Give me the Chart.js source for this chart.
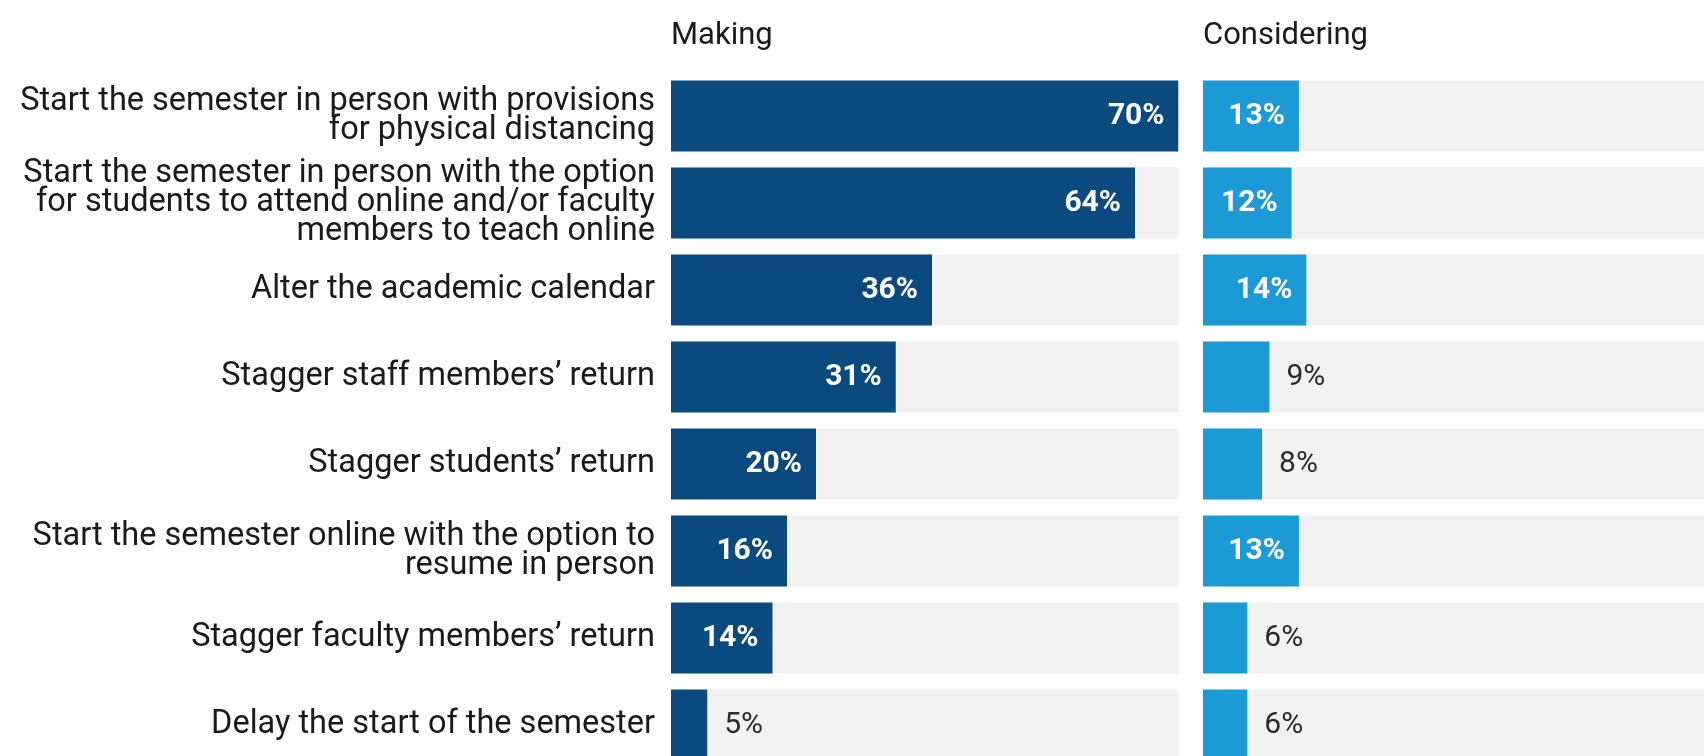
<!DOCTYPE html>
<html>
<head>
<meta charset="utf-8">
<title>Plans for the fall semester</title>
<script src="https://cdn.jsdelivr.net/npm/chart.js@4.4.1/dist/chart.umd.min.js"></script>
<style>
  html, body { margin: 0; padding: 0; background: #fff; overflow: hidden; }
  #wrap { position: relative; width: 1704px; height: 756px; overflow: hidden; }
  #making { position: absolute; left: 0; top: 0; }
  #considering { position: absolute; left: 1190px; top: 0; }
</style>
</head>
<body>
<div id="wrap">
  <canvas id="making" width="1190" height="780"></canvas>
  <canvas id="considering" width="540" height="780"></canvas>
</div>
<script>
const categories = [
  ["Start the semester in person with provisions", "for physical distancing"],
  ["Start the semester in person with the option", "for students to attend online and/or faculty", "members to teach online"],
  "Alter the academic calendar",
  "Stagger staff members’ return",
  "Stagger students’ return",
  ["Start the semester online with the option to", "resume in person"],
  "Stagger faculty members’ return",
  "Delay the start of the semester"
];
const makingValues = [70, 64, 36, 31, 20, 16, 14, 5];
const consideringValues = [13, 12, 14, 9, 8, 13, 6, 6];
const panelTitles = ["Making", "Considering"];

Chart.defaults.font.family = "Roboto";
Chart.defaults.color = "#1a1a1a";

// grey track behind every bar, full width of the panel
const trackPlugin = {
    id: "track",
    beforeDatasetsDraw(chart) {
        const { ctx, chartArea } = chart;
        const meta = chart.getDatasetMeta(0);
        ctx.save();
        ctx.fillStyle = "#f1f1f1";
        meta.data.forEach(bar => {
            ctx.fillRect(chartArea.left, bar.y - bar.height / 2, chartArea.right - chartArea.left, bar.height);
        });
        ctx.restore();
    }
};

// value labels: inside (white, bold) for long bars, outside for short ones
const valuePlugin = {
    id: "values",
    afterDatasetsDraw(chart) {
        const { ctx } = chart;
        const meta = chart.getDatasetMeta(0);
        const data = chart.data.datasets[0].data;
        ctx.save();
        ctx.textBaseline = "middle";
        meta.data.forEach((bar, i) => {
            const v = data[i];
            if (v >= 10) {
                ctx.font = "bold 30px Roboto";
                ctx.fillStyle = "#ffffff";
                ctx.textAlign = "right";
                ctx.fillText(v + "%", bar.x - 14, bar.y);
            } else {
                ctx.font = "30px Roboto";
                ctx.fillStyle = "#2a2a2a";
                ctx.textAlign = "left";
                ctx.fillText(v + "%", bar.x + 17, bar.y);
            }
        });
        ctx.restore();
    }
};

function makePanel(id, title, values, color, withLabels, padding) {
    const ctx = document.getElementById(id).getContext("2d");
    return new Chart(ctx, {
        type: "bar",
        data: {
            labels: categories,
            datasets: [{
                data: values,
                backgroundColor: color,
                barPercentage: 0.816,
                categoryPercentage: 1
            }]
        },
        options: {
            indexAxis: "y",
            responsive: false,
            animation: false,
            layout: { padding: padding },
            plugins: {
                legend: { display: false },
                tooltip: { enabled: false }
            },
            scales: {
                x: {
                    position: "top",
                    min: 0,
                    max: 70,
                    grid: { display: false, drawTicks: false },
                    border: { display: false },
                    ticks: { display: false },
                    title: {
                        display: true,
                        text: title,
                        align: "start",
                        color: "#1a1a1a",
                        font: { size: 31 },
                        padding: { top: 10, bottom: 17.3 }
                    }
                },
                y: {
                    display: withLabels,
                    grid: { display: false, drawTicks: false },
                    border: { display: false },
                    ticks: {
                        autoSkip: false,
                        padding: 16,
                        color: "#1a1a1a",
                        font: { size: 32.5, lineHeight: 0.9 }
                    },
                    afterFit(scale) {
                        if (withLabels) scale.width = 671;
                        // labels sit inside their bands, keep both panels on the same rows
                        scale.paddingTop = 0;
                        scale.paddingBottom = 0;
                    }
                }
            }
        },
        plugins: [trackPlugin, valuePlugin]
    });
}

makePanel("making", panelTitles[0], makingValues, "#0b4a7e", true,
    { left: 0, right: 11.5, top: 8, bottom: 11.5 });
makePanel("considering", panelTitles[1], consideringValues, "#1c9ad6", false,
    { left: 13, right: 10.4, top: 8, bottom: 11.5 });
</script>
</body>
</html>
